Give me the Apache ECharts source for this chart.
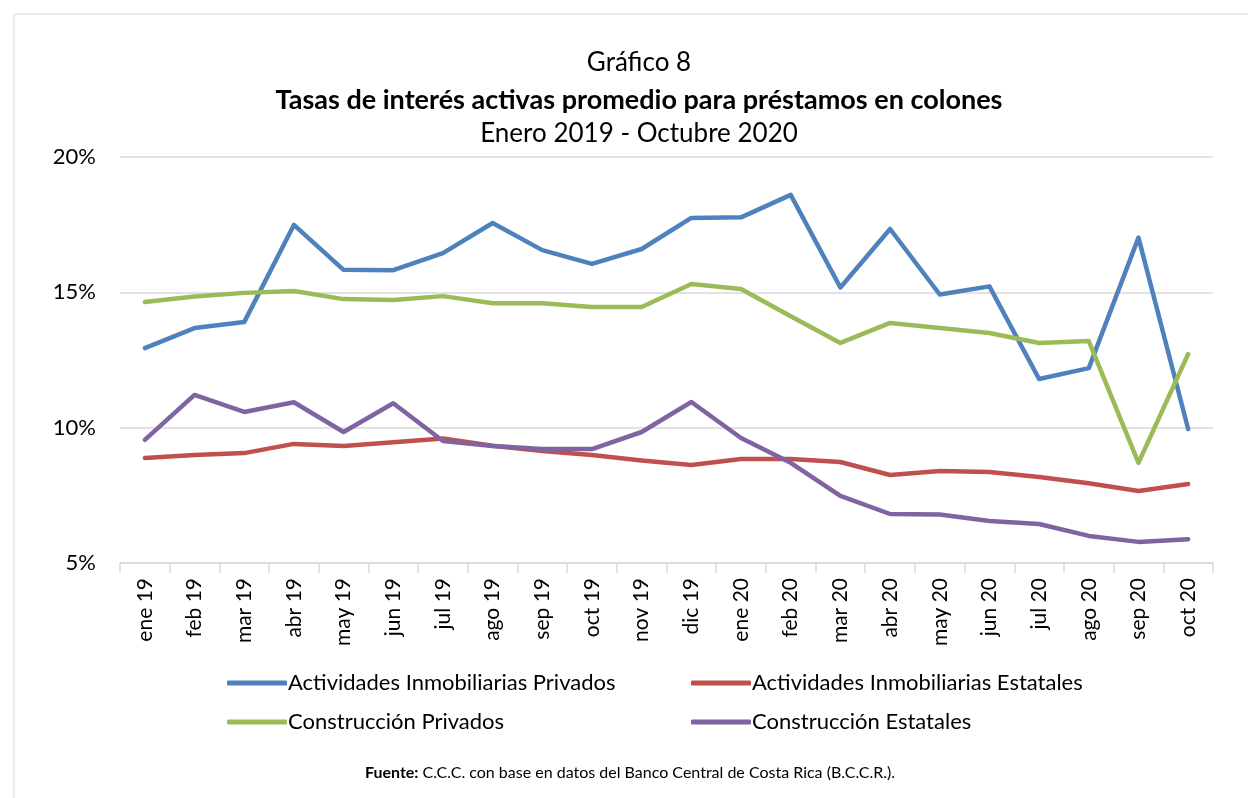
<!DOCTYPE html>
<html>
<head>
<meta charset="utf-8">
<script src="https://cdn.jsdelivr.net/npm/echarts@6/dist/echarts.min.js"></script>
<style>
  html, body { margin: 0; padding: 0; background: #fff; }
  #chart { width: 1248px; height: 798px; }
</style>
</head>
<body>
<div id="chart"></div>
<script>
// meses
var months = ["ene 19", "feb 19", "mar 19", "abr 19", "may 19", "jun 19", "jul 19", "ago 19", "sep 19", "oct 19", "nov 19", "dic 19",
  "ene 20", "feb 20", "mar 20", "abr 20", "may 20", "jun 20", "jul 20", "ago 20", "sep 20", "oct 20"];

// tasas (%)
var inmobPrivados = [12.94, 13.68, 13.90, 17.49, 15.83, 15.82, 16.45, 17.56, 16.56, 16.05, 16.60, 17.75,
  17.77, 18.60, 15.18, 17.34, 14.92, 15.22, 11.80, 12.20, 17.02, 9.95];
var inmobEstatales = [8.88, 8.99, 9.06, 9.40, 9.32, 9.46, 9.60, 9.33, 9.14, 8.99, 8.79, 8.62,
  8.84, 8.84, 8.73, 8.25, 8.40, 8.36, 8.18, 7.95, 7.66, 7.92];
var construPrivados = [14.64, 14.85, 14.98, 15.05, 14.75, 14.72, 14.86, 14.60, 14.60, 14.46, 14.46, 15.31,
  15.12, 14.12, 13.13, 13.87, 13.68, 13.50, 13.13, 13.20, 8.70, 12.72];
var construEstatales = [9.55, 11.21, 10.58, 10.94, 9.84, 10.90, 9.51, 9.32, 9.21, 9.21, 9.84, 10.95,
  9.62, 8.70, 7.48, 6.81, 6.79, 6.55, 6.44, 6.00, 5.78, 5.88];

var yTicks = { min: 5, max: 20, interval: 5 };

var FONT = "Lato";

var chart = echarts.init(document.getElementById("chart"));

function line(name, data, color) {
  return {
    type: "line",
    name: name,
    data: data,
    symbol: "none",
    lineStyle: { color: color, width: 4.5, cap: "round", join: "round" },
    itemStyle: { color: color }
  };
}

chart.setOption({
  backgroundColor: "#fff",
  animation: false,
  textStyle: { fontFamily: FONT },
  graphic: [{
    type: "rect",
    shape: { x: 14, y: 14, width: 1250, height: 800 },
    style: { fill: "none", stroke: "#d9d9d9", lineWidth: 1 }
  }],
  title: [
    { text: "Gráfico 8", left: 634, top: 45, textAlign: "center",
      textStyle: { fontFamily: FONT, fontSize: 26, fontWeight: "normal", color: "#000" } },
    { text: "Tasas de interés activas promedio para préstamos en colones", left: 634, top: 82, textAlign: "center",
      textStyle: { fontFamily: FONT, fontSize: 27, fontWeight: "bold", color: "#000" } },
    { text: "Enero 2019 - Octubre 2020", left: 634, top: 116, textAlign: "center",
      textStyle: { fontFamily: FONT, fontSize: 26, fontWeight: "normal", color: "#000" } },
    { text: "{b|Fuente:} C.C.C. con base en datos del Banco Central de Costa Rica (B.C.C.R.).", left: 625, top: 760, textAlign: "center",
      textStyle: { fontFamily: FONT, fontSize: 16, fontWeight: "normal", color: "#000",
        rich: { b: { fontFamily: FONT, fontSize: 16, fontWeight: "bold", color: "#000" } } } }
  ],
  legend: [
    { data: ["Actividades Inmobiliarias Privados", "Construcción Privados"], orient: "vertical",
      left: 222, top: 667, itemGap: 17, itemWidth: 60, itemHeight: 5, icon: "roundRect",
      textStyle: { fontFamily: FONT, fontSize: 22, color: "#000", padding: [0, 0, 0, -4] } },
    { data: ["Actividades Inmobiliarias Estatales", "Construcción Estatales"], orient: "vertical",
      left: 686, top: 667, itemGap: 17, itemWidth: 60, itemHeight: 5, icon: "roundRect",
      textStyle: { fontFamily: FONT, fontSize: 22, color: "#000", padding: [0, 0, 0, -4] } }
  ],
  grid: { left: 120, right: 35, top: 157, bottom: 235, containLabel: false },
  xAxis: {
    type: "category",
    data: months,
    boundaryGap: true,
    axisLine: { lineStyle: { color: "#d9d9d9", width: 1.5 } },
    axisTick: { show: true, interval: 0, length: 10, lineStyle: { color: "#d9d9d9", width: 1.5 } },
    axisLabel: { interval: 0, rotate: 90, align: "right", verticalAlign: "middle", margin: 15,
      fontFamily: FONT, fontSize: 21, color: "#000" }
  },
  yAxis: {
    type: "value",
    min: yTicks.min,
    max: yTicks.max,
    interval: yTicks.interval,
    axisLine: { show: false },
    axisTick: { show: false },
    splitLine: { lineStyle: { color: "#d9d9d9", width: 1.5 } },
    axisLabel: { formatter: "{value}%", margin: 24, fontFamily: FONT, fontSize: 22, color: "#000" }
  },
  series: [
    line("Actividades Inmobiliarias Privados", inmobPrivados, "#4f81bd"),
    line("Actividades Inmobiliarias Estatales", inmobEstatales, "#c0504d"),
    line("Construcción Privados", construPrivados, "#9bbb59"),
    line("Construcción Estatales", construEstatales, "#8064a2")
  ]
});
</script>
</body>
</html>
